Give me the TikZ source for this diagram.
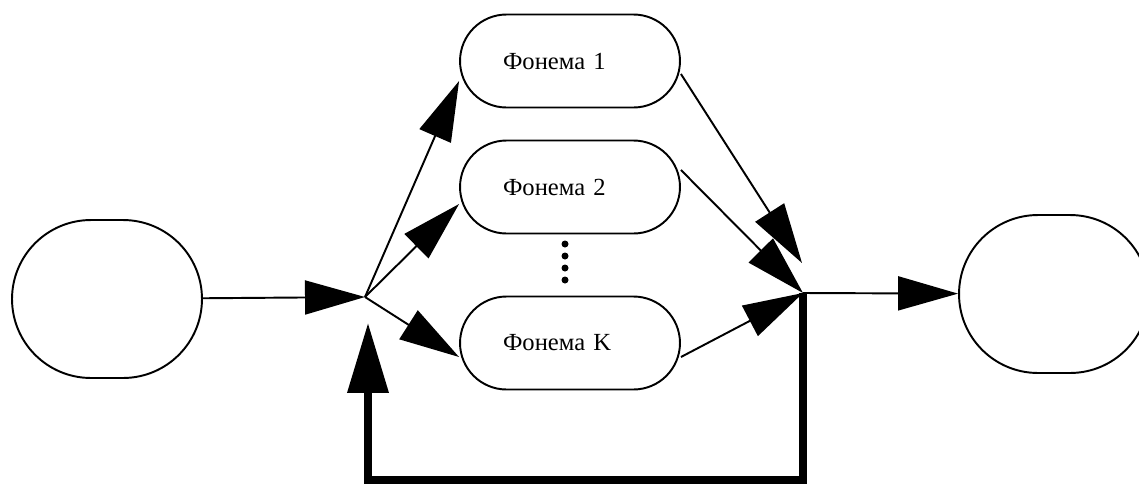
\documentclass[tikz,border=0pt]{standalone}
\usepackage{fontspec}
\setmainfont{Liberation Serif}
\usetikzlibrary{arrows.meta,calc}

\begin{document}
\begin{tikzpicture}[x=0.02cm, y=-0.02cm, line width=1.1pt,
  state/.style={draw, rounded corners=1.58cm, minimum width=3.8cm, minimum height=3.16cm},
  phoneme/.style={draw, rounded corners=0.93cm, minimum height=1.86cm,
    text width=2.68cm, inner xsep=0.86cm, align=left, font=\fontsize{14}{16}\selectfont},
  arr/.style={-{Triangle[length=1.2cm, width=0.68cm]}},
  back/.style={line width=4pt, -{Triangle[length=1.4cm, width=0.8cm]}}]
\clip (0,0) rectangle (1139,484);
\node[state] (start) at (107,299) {};
\node[state] (finish) at (1054,294) {};
\node[phoneme] (ph1) at (570,61) {Фонема 1};
\node[phoneme] (ph2) at (570,187) {Фонема 2};
\node[phoneme] (phK) at (570,343) {Фонема K};
\foreach \y in {244,256,268,280}
  \fill (565,\y) circle[radius=0.07cm];
\coordinate (split) at (365,297);
\coordinate (join) at (803,293);
\coordinate (hit1) at (802,263);
\coordinate (low) at (803,480);
\coordinate (fb) at (368,323);
\draw[arr] (start) -- (split);
\draw[arr] (split) -- ($(ph1.west)+(0,20)$);
\draw[arr] (split) -- ($(ph2.west)+(0,17)$);
\draw[arr] (split) -- ($(phK.west)+(0,14)$);
\draw[arr] ($(ph1.east)+(0,13)$) -- (hit1);
\draw[arr] ($(ph2.east)+(0,-17)$) -- (join);
\draw[arr] ($(phK.east)+(0,14)$) -- (join);
\draw[arr] (join) -- (finish);
\draw[back] (join) -- (low) -| (fb);
\end{tikzpicture}
\end{document}
